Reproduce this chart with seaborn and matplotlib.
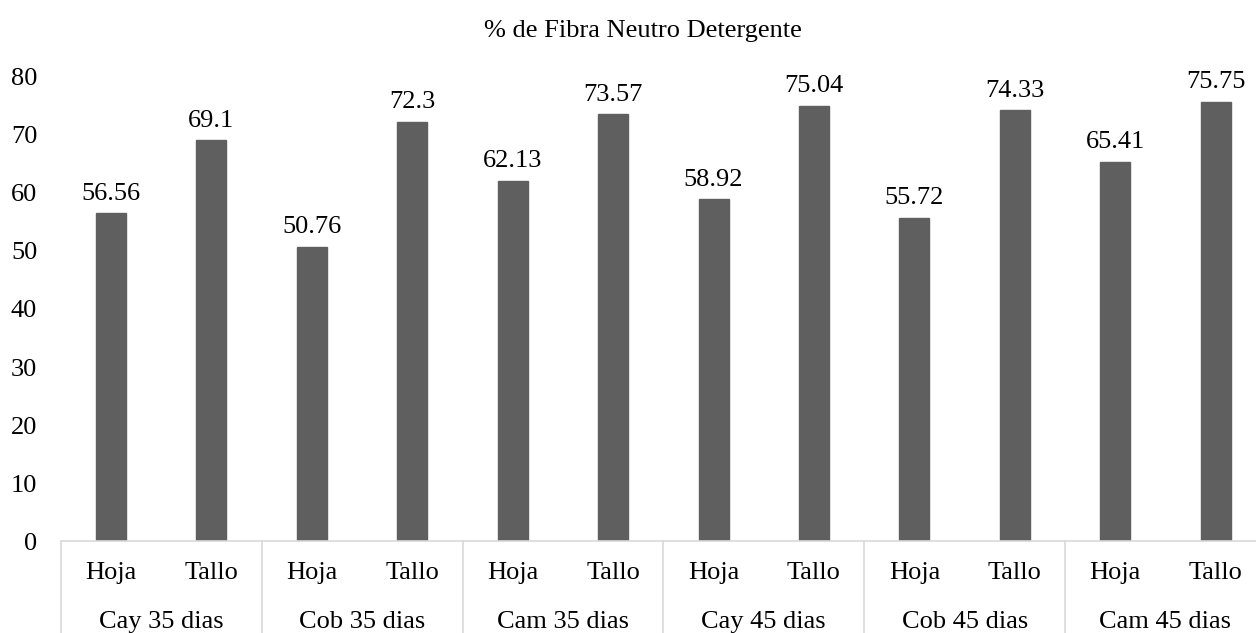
import matplotlib
matplotlib.use("Agg")
import matplotlib.pyplot as plt
import matplotlib.transforms as mtransforms
import seaborn as sns
import pandas as pd

# Data
groups = ["Cay 35 dias", "Cob 35 dias", "Cam 35 dias", "Cay 45 dias", "Cob 45 dias", "Cam 45 dias"]
parts = ["Hoja", "Tallo"]
hoja = [56.56, 50.76, 62.13, 58.92, 55.72, 65.41]
tallo = [69.1, 72.3, 73.57, 75.04, 74.33, 75.75]
title = "% de Fibra Neutro Detergente"
yticks = [0, 10, 20, 30, 40, 50, 60, 70, 80]

sns.set_theme(style="white")
plt.rcParams["font.family"] = ["Liberation Serif", "DejaVu Serif"]

FS = 19

rows = []
for g, h, t in zip(groups, hoja, tallo):
    rows.append({"key": f"{g}|Hoja", "group": g, "part": "Hoja", "value": h})
    rows.append({"key": f"{g}|Tallo", "group": g, "part": "Tallo", "value": t})
df = pd.DataFrame(rows)
order = list(df["key"])

fig = plt.figure(figsize=(12.56, 6.33), dpi=100)
ax = fig.add_axes([0.0484, 0.1453, 0.9595, 0.7331])

sns.barplot(data=df, x="key", y="value", order=order, color="#5f5f5f",
            width=0.30, saturation=1, ax=ax, errorbar=None)
for p in ax.patches:
    p.set_edgecolor("#5f5f5f")

ax.bar_label(ax.containers[0], labels=[f"{v:g}" for v in df["value"]],
             padding=6, fontsize=FS, color="#000000")

ax.set_ylim(0, 80)
ax.set_xlim(-0.5, len(order) - 0.5)
ax.set_yticks(yticks)
ax.set_yticklabels([str(v) for v in yticks])
ax.tick_params(axis="y", length=0, pad=17, labelsize=FS, colors="#000000")
ax.set_xticks([])
ax.set_xlabel("")
ax.set_ylabel("")
for s in ["top", "right", "left"]:
    ax.spines[s].set_visible(False)
ax.spines["bottom"].set_color("#d9d9d9")
ax.spines["bottom"].set_linewidth(1.2)

trans = mtransforms.blended_transform_factory(ax.transData, ax.transAxes)
# group separators below the baseline
for i in range(len(groups) + 1):
    xb = -0.5 + 2 * i
    ax.plot([xb, xb], [0, -0.25], transform=trans, color="#d9d9d9",
            lw=1.2, clip_on=False)

for i, k in enumerate(order):
    ax.text(i, -0.069, df["part"][i], transform=trans, ha="center", va="center",
            fontsize=FS, color="#000000")
for j, g in enumerate(groups):
    ax.text(2 * j + 0.5, -0.175, g, transform=trans, ha="center", va="center",
            fontsize=FS, color="#000000")

fig.text(0.512, 1 - 31 / 633, title, ha="center", va="center", fontsize=FS,
         color="#000000")

fig.savefig("out.png", dpi=100)
